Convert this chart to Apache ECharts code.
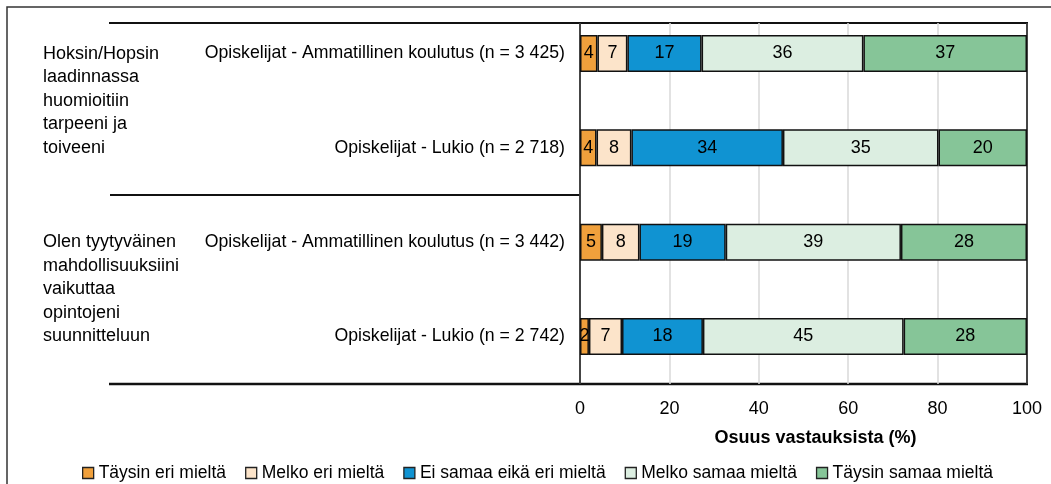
<!DOCTYPE html>
<html><head><meta charset="utf-8">
<script src="https://cdn.jsdelivr.net/npm/echarts@6/dist/echarts.min.js"></script>
<style>html,body{margin:0;padding:0;background:#fff}#c{width:1051px;height:484px}</style>
</head><body><div id="c"></div>
<script>
const FONT = "'Liberation Sans Narrow','Arial Narrow','Liberation Sans',Arial,sans-serif";
const categories = [
  'Opiskelijat - Ammatillinen koulutus (n = 3 425)',
  'Opiskelijat - Lukio (n = 2 718)',
  'Opiskelijat - Ammatillinen koulutus (n = 3 442)',
  'Opiskelijat - Lukio (n = 2 742)'
];
const groups = [
  'Hoksin/Hopsin\nlaadinnassa\nhuomioitiin\ntarpeeni ja\ntoiveeni',
  'Olen tyytyväinen\nmahdollisuuksiini\nvaikuttaa\nopintojeni\nsuunnitteluun'
];
const seriesNames = ['Täysin eri mieltä', 'Melko eri mieltä', 'Ei samaa eikä eri mieltä', 'Melko samaa mieltä', 'Täysin samaa mieltä'];
const taysinEri = [3.9, 3.7, 4.9, 2.0];
const melkoEri = [6.7, 7.8, 8.4, 7.4];
const eiSamaaEikaEri = [16.6, 33.9, 19.3, 18.1];
const melkoSamaa = [36.2, 34.8, 39.2, 44.9];
const taysinSamaa = [36.6, 19.8, 28.2, 27.6];
const xMin = 0, xMax = 100, xInterval = 20;
const axisTitle = 'Osuus vastauksista (%)';

const seriesData = [taysinEri, melkoEri, eiSamaaEikaEri, melkoSamaa, taysinSamaa];
const colors = ['#F0A03C', '#FCE4CA', '#1093D2', '#DCEEE1', '#86C598'];

const chart = echarts.init(document.getElementById('c'), null, {renderer: 'canvas'});
const txt = {fontFamily: FONT, color: '#000'};

const option = {
  animation: false,
  backgroundColor: '#fff',
  textStyle: {fontFamily: FONT},
  grid: [
    {left: 580, right: 24, top: 6.3, height: 377.4},
    {left: 580, right: 24, top: 23, height: 361}
  ],
  xAxis: [
    {gridIndex: 0, type: 'value', min: xMin, max: xMax, show: false},
    {gridIndex: 1, type: 'value', min: xMin, max: xMax, interval: xInterval,
     axisLine: {show: false}, axisTick: {show: false},
     splitLine: {show: true, lineStyle: {color: '#D9D9D9', width: 1.5}},
     axisLabel: Object.assign({fontSize: 18, margin: 16}, txt),
     name: axisTitle, nameLocation: 'middle', nameGap: 45,
     nameTextStyle: Object.assign({fontSize: 18, fontWeight: 'bold', padding: [0, 0, 0, 24]}, txt)}
  ],
  yAxis: [
    {gridIndex: 0, type: 'category', inverse: true, data: categories,
     axisLine: {show: false}, axisTick: {show: false}, splitLine: {show: false},
     axisLabel: Object.assign({fontSize: 17.7, margin: 15, interval: 0}, txt)},
    {gridIndex: 0, type: 'category', inverse: true, data: groups, position: 'left',
     axisLine: {show: false}, axisTick: {show: false}, splitLine: {show: false},
     axisLabel: Object.assign({fontSize: 18, margin: 537, align: 'left', lineHeight: 23.5, interval: 0, padding: [4, 0, 0, 0]}, txt)},
    {gridIndex: 1, type: 'value', position: 'left', min: 0, max: 1,
     axisLine: {show: true, lineStyle: {color: '#111', width: 1.5}},
     axisTick: {show: false}, axisLabel: {show: false}, splitLine: {show: false}},
    {gridIndex: 1, type: 'value', position: 'right', min: 0, max: 1,
     axisLine: {show: true, lineStyle: {color: '#111', width: 1.5}},
     axisTick: {show: false}, axisLabel: {show: false}, splitLine: {show: false}}
  ],
  legend: {
    left: 77, top: 459, selectedMode: false,
    icon: 'rect', itemWidth: 11, itemHeight: 11, itemGap: 19,
    itemStyle: {borderColor: '#222', borderWidth: 1.3},
    textStyle: Object.assign({fontSize: 17.5}, txt),
    data: seriesNames
  },
  series: seriesNames.map((name, i) => ({
    name: name, type: 'bar', stack: 'total',
    xAxisIndex: 0, yAxisIndex: 0,
    barWidth: 37,
    data: seriesData[i],
    itemStyle: {color: colors[i], borderColor: '#111', borderWidth: 1.5},
    label: Object.assign({show: true, position: 'inside', fontSize: 18,
      formatter: p => String(Math.round(p.value))}, txt)
  })),
  graphic: [
    {type: 'rect', shape: {x: 7, y: 7, width: 1200, height: 700}, style: {fill: 'none', stroke: '#333', lineWidth: 1.5}, silent: true},
    {type: 'line', shape: {x1: 109, y1: 23, x2: 1028, y2: 23}, style: {stroke: '#111', lineWidth: 2}, silent: true},
    {type: 'line', shape: {x1: 110, y1: 195, x2: 580, y2: 195}, style: {stroke: '#111', lineWidth: 2}, silent: true},
    {type: 'line', shape: {x1: 109, y1: 384, x2: 1028, y2: 384}, style: {stroke: '#111', lineWidth: 2.5}, silent: true}
  ]
};
chart.setOption(option);
</script>
</body></html>
